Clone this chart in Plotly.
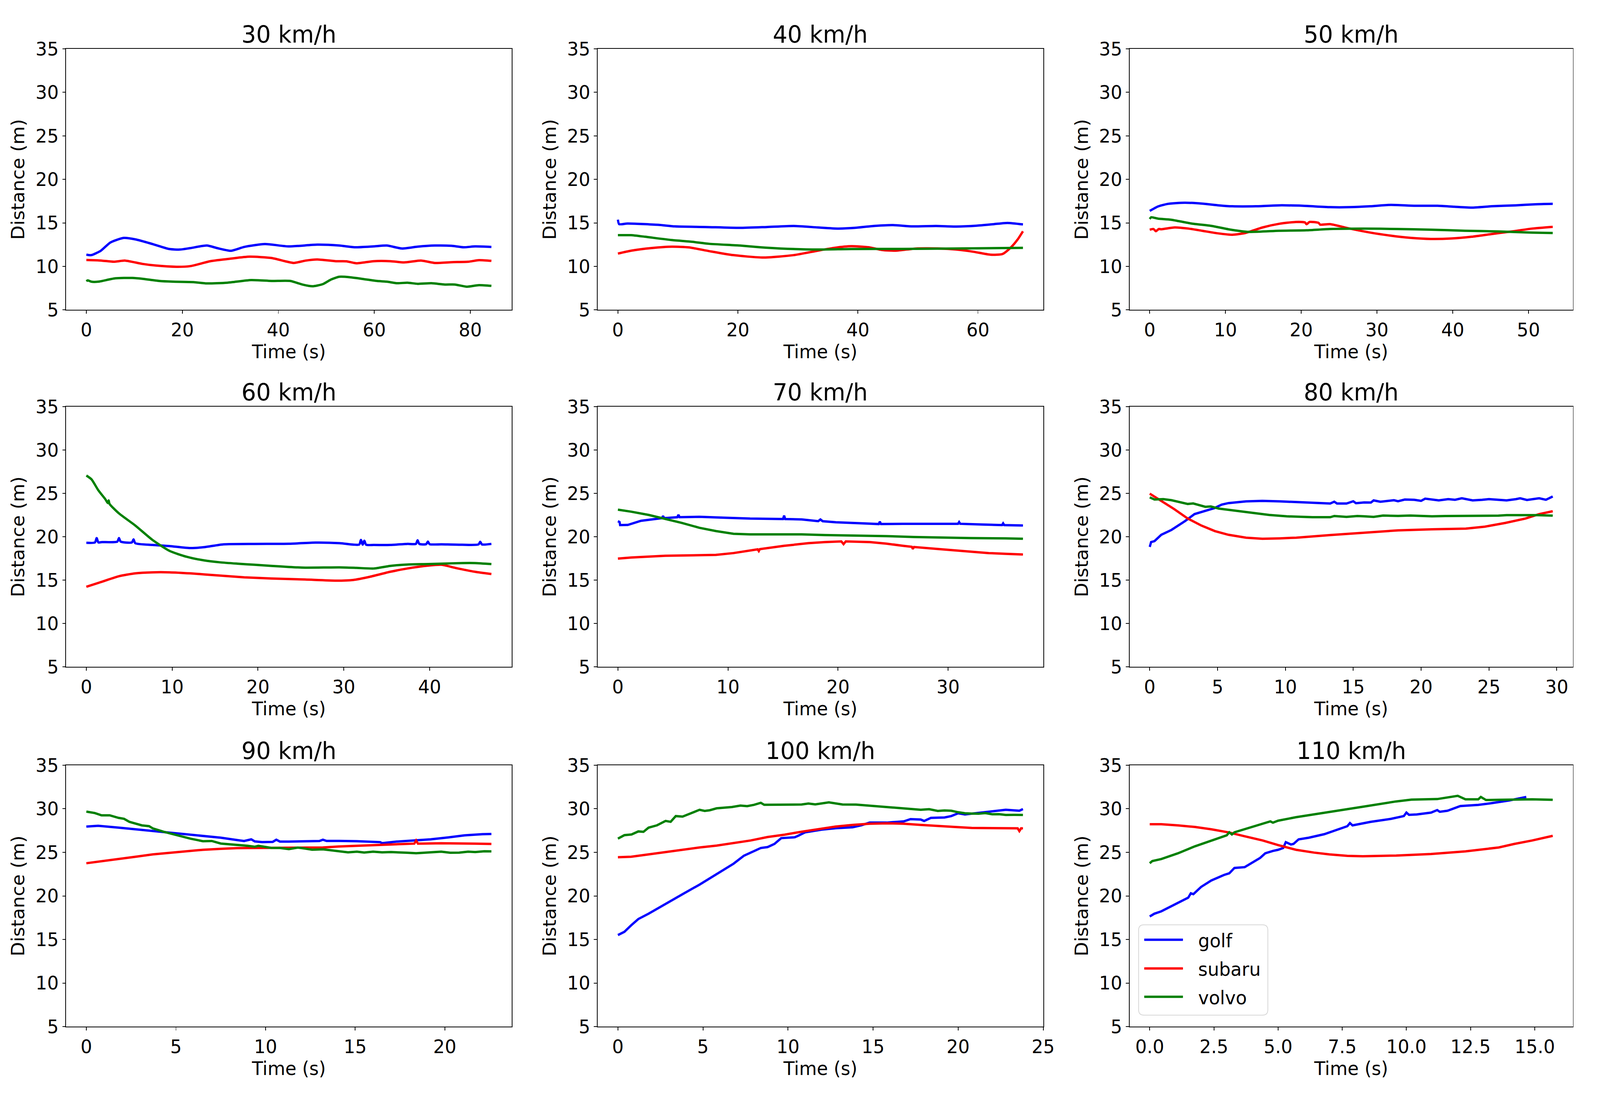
import plotly.graph_objects as go

# ---------------- data ----------------
SPEEDS = ["30 km/h", "40 km/h", "50 km/h", "60 km/h", "70 km/h", "80 km/h", "90 km/h", "100 km/h", "110 km/h"]
CARS = ["golf", "subaru", "volvo"]
CAR_COLORS = {"golf": "#0000ff", "subaru": "#ff0000", "volvo": "#008000"}
X_DTICK = [20, 20, 10, 10, 10, 5, 5, 5, 2.5]
Y_TICKS = [5, 10, 15, 20, 25, 30, 35]

T30_GOLF = [0, 1, 3, 5, 7.8, 10.3, 13.8, 17.3, 19.5, 21.6, 25.1, 27.3, 30.1, 32.9, 37.2, 42.1, 48.1, 52.7, 55.9, 59.8, 62.6, 65.8, 69, 72.6, 76.1, 78.6, 81, 84.4]
D30_GOLF = [11.35, 11.3, 11.8, 12.75, 13.28, 13.1, 12.57, 12.0, 11.94, 12.1, 12.4, 12.1, 11.8, 12.24, 12.57, 12.3, 12.5, 12.4, 12.2, 12.3, 12.4, 12.06, 12.27, 12.4, 12.37, 12.2, 12.3, 12.24]
T30_SUB = [0, 3.2, 5.7, 8.1, 11.7, 14.5, 18.8, 21.6, 23.7, 25.8, 30.1, 34, 38.6, 41.4, 43.2, 45.7, 48.1, 52, 54.2, 56.3, 59.8, 63.4, 66.2, 69.8, 72.6, 76.1, 79.6, 81.8, 84.4]
D30_SUB = [10.74, 10.67, 10.54, 10.67, 10.29, 10.1, 9.96, 10.03, 10.3, 10.6, 10.9, 11.12, 10.97, 10.6, 10.4, 10.67, 10.8, 10.6, 10.59, 10.36, 10.6, 10.6, 10.46, 10.67, 10.4, 10.49, 10.54, 10.72, 10.64]
T30_VOL = [0, 0.3, 1, 2.5, 6, 9.6, 11.7, 15.2, 18, 22.3, 25.1, 29.4, 34.3, 38.6, 42.5, 45, 47.1, 49.3, 51, 52.7, 54.9, 58.4, 60.6, 62.6, 64.8, 66.9, 69, 71.9, 74.7, 76.8, 79.3, 81.8, 84.4]
D30_VOL = [8.3, 8.4, 8.25, 8.25, 8.63, 8.68, 8.58, 8.33, 8.25, 8.2, 8.05, 8.13, 8.43, 8.33, 8.33, 7.92, 7.72, 7.97, 8.5, 8.81, 8.76, 8.5, 8.33, 8.25, 8.07, 8.13, 8.0, 8.07, 7.92, 7.92, 7.67, 7.85, 7.77]

T40_GOLF = [0, 0.2, 1.6, 6.7, 9.5, 14.6, 20.3, 24.8, 29.3, 33.3, 36.7, 39.5, 42.3, 45.7, 49.1, 53, 56.4, 59.8, 62.7, 64.9, 67.5]
D40_GOLF = [15.37, 14.86, 14.93, 14.78, 14.6, 14.53, 14.43, 14.53, 14.65, 14.48, 14.35, 14.43, 14.63, 14.75, 14.6, 14.65, 14.58, 14.68, 14.86, 15.0, 14.83]
T40_SUB = [0, 2.2, 5.6, 9, 11.8, 15.2, 19.2, 24.2, 29.3, 33.3, 36.1, 38.9, 41.8, 44, 46.3, 49.7, 53.6, 56.4, 59.3, 62.1, 64.1, 65.5, 66.6, 67.5]
D40_SUB = [11.48, 11.81, 12.11, 12.27, 12.19, 11.76, 11.3, 11.02, 11.3, 11.81, 12.14, 12.32, 12.2, 11.89, 11.81, 12.06, 12.06, 11.94, 11.68, 11.35, 11.43, 12.19, 13.08, 14.04]
T40_VOL = [0, 2.2, 4.5, 9, 12.4, 15.2, 20.3, 23.7, 27.1, 33.3, 38.9, 47.4, 55.9, 67.5]
D40_VOL = [13.59, 13.59, 13.41, 13.03, 12.83, 12.6, 12.4, 12.2, 12.06, 11.94, 12.0, 12.01, 12.06, 12.14]

T50_GOLF = [0, 1.1, 2.4, 4.6, 6.9, 9.1, 10.9, 14, 17.1, 20.2, 23.8, 26.4, 29.1, 31.8, 34.9, 38, 40.2, 42.5, 45.1, 48.3, 50.9, 53.2]
D50_GOLF = [16.38, 16.89, 17.19, 17.32, 17.22, 17.02, 16.91, 16.91, 17.02, 16.97, 16.81, 16.81, 16.91, 17.07, 16.97, 16.97, 16.86, 16.76, 16.91, 17.02, 17.14, 17.19]
T50_SUB = [0, 0.5, 0.8, 1.2, 1.5, 3.3, 5.1, 6.9, 9.1, 10.9, 12.6, 14.9, 17.1, 19.3, 20.5, 20.7, 21.1, 22.3, 22.5, 23.8, 26.4, 29.1, 31.8, 34.5, 37.1, 39.8, 42.5, 45.1, 47.8, 50.5, 53.2]
D50_SUB = [14.22, 14.3, 14.05, 14.3, 14.27, 14.48, 14.35, 14.1, 13.79, 13.64, 13.84, 14.48, 14.9, 15.11, 15.05, 14.85, 15.11, 15.0, 14.8, 14.86, 14.35, 13.89, 13.54, 13.28, 13.16, 13.21, 13.41, 13.72, 14.02, 14.35, 14.55]
T50_VOL = [0, 0.2, 1.1, 2.8, 5.5, 8.2, 10.4, 13.1, 17.1, 20.7, 23.8, 28.2, 32.7, 37.1, 41.6, 46, 50.5, 53.2]
D50_VOL = [15.45, 15.65, 15.49, 15.37, 14.93, 14.65, 14.27, 13.97, 14.1, 14.15, 14.3, 14.35, 14.3, 14.22, 14.1, 14.02, 13.89, 13.84]

T60_GOLF = [0, 1.0, 1.2, 1.4, 1.8, 3.6, 3.8, 4.0, 5.3, 5.5, 5.7, 7.7, 9.7, 12.1, 13.7, 16, 19.6, 23.6, 26.7, 29.5, 31.1, 31.8, 32.0, 32.2, 32.4, 32.6, 33.5, 35.4, 37.4, 38.4, 38.6, 38.8, 39.6, 39.8, 40.0, 41.4, 43.8, 45.7, 45.9, 46.1, 47.2]
D60_GOLF = [19.31, 19.35, 19.85, 19.35, 19.39, 19.44, 19.85, 19.44, 19.35, 19.7, 19.26, 19.06, 18.93, 18.7, 18.8, 19.13, 19.18, 19.2, 19.33, 19.26, 19.1, 19.1, 19.64, 19.1, 19.55, 19.08, 19.06, 19.06, 19.18, 19.18, 19.6, 19.18, 19.15, 19.45, 19.15, 19.13, 19.08, 19.12, 19.42, 19.12, 19.18]
T60_SUB = [0, 1.8, 3.8, 5.7, 7.7, 9.7, 12.1, 15.6, 18.4, 21.6, 25.5, 29.1, 31.1, 33.1, 35.4, 37.4, 39.8, 41.4, 43, 45.3, 47.2]
D60_SUB = [14.23, 14.81, 15.45, 15.78, 15.9, 15.9, 15.78, 15.52, 15.32, 15.19, 15.07, 14.94, 15.02, 15.4, 15.96, 16.34, 16.67, 16.77, 16.41, 15.96, 15.7]
T60_VOL = [0, 0.6, 1.4, 2.2, 2.5, 2.6, 2.7, 3.8, 5.7, 7.7, 9.7, 11.7, 13.7, 15.6, 17.6, 19.6, 21.6, 23.6, 25.5, 29.5, 31.5, 33.5, 35.4, 37.4, 39.8, 41.4, 43.8, 45.3, 47.2]
D60_VOL = [27.07, 26.63, 25.36, 24.35, 23.9, 24.2, 23.8, 22.7, 21.3, 19.64, 18.37, 17.69, 17.28, 17.05, 16.9, 16.77, 16.64, 16.52, 16.44, 16.47, 16.41, 16.34, 16.64, 16.8, 16.85, 16.9, 16.97, 16.97, 16.85]

T70_GOLF = [0, 0.15, 0.2, 0.9, 2.1, 3.7, 4.0, 4.1, 4.2, 5.4, 5.5, 5.6, 7.4, 9.6, 12, 15.0, 15.1, 15.2, 16.7, 18.2, 18.4, 18.6, 19.8, 22.2, 23.7, 23.8, 23.9, 25.9, 29, 30.9, 31.0, 31.1, 33.1, 34.9, 35.0, 35.1, 36.8]
D70_GOLF = [21.8, 21.7, 21.35, 21.37, 21.85, 22.1, 22.15, 22.4, 22.15, 22.26, 22.55, 22.26, 22.31, 22.21, 22.1, 22.05, 22.45, 22.05, 22.0, 21.8, 22.0, 21.8, 21.68, 21.55, 21.47, 21.75, 21.47, 21.5, 21.5, 21.5, 21.7, 21.5, 21.42, 21.35, 21.55, 21.35, 21.3]
T70_SUB = [0, 1.2, 4.3, 7.4, 8.9, 10.5, 12.3, 12.7, 12.8, 12.9, 15.1, 17.3, 18.8, 20.3, 20.5, 20.7, 22.9, 24.4, 25.9, 26.7, 26.8, 26.9, 29, 30.6, 32.1, 33.7, 35.2, 36.8]
D70_SUB = [17.48, 17.61, 17.81, 17.84, 17.91, 18.12, 18.45, 18.55, 18.35, 18.58, 18.96, 19.26, 19.39, 19.47, 19.15, 19.47, 19.39, 19.21, 18.96, 18.85, 18.6, 18.82, 18.6, 18.42, 18.24, 18.12, 18.04, 17.96]
T70_VOL = [0, 1.2, 2.8, 4.3, 5.8, 7.4, 8.9, 10.5, 12, 15.1, 16.7, 18.8, 21.3, 24.4, 26.9, 29, 32.1, 35.2, 36.8]
D70_VOL = [23.13, 22.9, 22.52, 22.06, 21.6, 21.04, 20.66, 20.35, 20.28, 20.28, 20.28, 20.2, 20.15, 20.08, 19.97, 19.9, 19.85, 19.82, 19.77]

T80_GOLF = [0, 0.1, 0.35, 0.85, 1.6, 2.6, 3.3, 4.1, 4.8, 5.3, 5.8, 7.1, 8.3, 9.6, 10.8, 12, 13.3, 13.6, 13.8, 14.5, 15.0, 15.2, 15.8, 16.3, 16.5, 17, 17.5, 18, 18.3, 18.8, 19.5, 20.0, 20.3, 20.8, 21.3, 22, 22.5, 23.0, 23.3, 23.8, 24.5, 25.0, 25.7, 26.3, 27, 27.3, 27.8, 28.2, 28.7, 29.2, 29.7]
D80_GOLF = [18.83, 19.39, 19.5, 20.23, 20.79, 21.81, 22.62, 23.02, 23.33, 23.71, 23.89, 24.09, 24.14, 24.09, 24.02, 23.91, 23.84, 24.05, 23.84, 23.84, 24.1, 23.88, 23.96, 23.95, 24.2, 24.04, 24.1, 24.22, 24.1, 24.3, 24.27, 24.15, 24.4, 24.27, 24.2, 24.35, 24.27, 24.45, 24.35, 24.2, 24.27, 24.35, 24.27, 24.2, 24.35, 24.45, 24.25, 24.35, 24.45, 24.27, 24.65]
T80_SUB = [0, 0.85, 1.8, 2.8, 3.8, 4.8, 5.8, 7.1, 8.3, 9.6, 10.8, 13.3, 15.8, 18.3, 20.8, 23.3, 24.7, 26.2, 27.7, 28.7, 29.7]
D80_SUB = [24.98, 24.17, 23.2, 22.11, 21.3, 20.66, 20.23, 19.9, 19.77, 19.82, 19.9, 20.2, 20.48, 20.74, 20.86, 20.94, 21.17, 21.6, 22.11, 22.62, 22.95]
T80_VOL = [0, 0.35, 1.0, 1.6, 2.8, 3.2, 4.1, 4.5, 5.1, 6.3, 7.6, 8.8, 10.1, 11, 12, 13.3, 13.6, 14.5, 15.3, 15.8, 16.5, 17.2, 18.3, 19.2, 20.8, 21.8, 23.3, 24.5, 25.7, 26.3, 27.7, 28.5, 29.7]
D80_VOL = [24.55, 24.3, 24.35, 24.22, 23.79, 23.85, 23.46, 23.5, 23.25, 23.02, 22.77, 22.52, 22.36, 22.3, 22.26, 22.26, 22.4, 22.3, 22.4, 22.36, 22.3, 22.45, 22.41, 22.45, 22.36, 22.4, 22.41, 22.45, 22.44, 22.5, 22.52, 22.5, 22.44]

T90_GOLF = [0, 0.66, 1.8, 2.75, 3.7, 4.6, 5.6, 6.5, 7.5, 8.4, 8.8, 9.2, 9.4, 9.8, 10.4, 10.6, 10.8, 11.3, 12.2, 13.0, 13.2, 13.4, 14.1, 15.1, 16.4, 16.5, 17.3, 18.3, 19.2, 20.2, 21.1, 22.1, 22.6]
D90_GOLF = [27.96, 28.04, 27.83, 27.64, 27.43, 27.24, 27.05, 26.89, 26.68, 26.41, 26.3, 26.49, 26.25, 26.17, 26.2, 26.45, 26.23, 26.23, 26.28, 26.3, 26.45, 26.31, 26.31, 26.28, 26.17, 26.05, 26.23, 26.36, 26.49, 26.71, 26.95, 27.08, 27.11]
T90_SUB = [0, 0.85, 1.8, 2.75, 3.7, 4.6, 5.6, 6.5, 7.5, 8.4, 10.3, 12.2, 13.2, 14.1, 15.1, 16, 17, 17.9, 18.3, 18.4, 18.5, 18.9, 19.8, 21.7, 22.6]
D90_SUB = [23.75, 23.96, 24.23, 24.49, 24.76, 24.95, 25.16, 25.29, 25.4, 25.48, 25.51, 25.51, 25.56, 25.67, 25.75, 25.83, 25.91, 25.96, 26.0, 26.36, 26.0, 26.01, 26.04, 25.99, 25.96]
T90_VOL = [0, 0.47, 0.85, 1.3, 1.8, 2.1, 2.4, 2.8, 3.1, 3.5, 3.7, 4.3, 5.0, 5.8, 6.5, 7.0, 7.5, 8.4, 9.0, 9.4, 9.6, 10.3, 10.8, 11.3, 11.8, 12.2, 12.6, 13.2, 14.1, 14.6, 15.1, 15.5, 16.0, 16.5, 17.0, 17.5, 17.9, 18.4, 18.9, 19.4, 19.8, 20.3, 20.8, 21.3, 21.7, 22.2, 22.6]
D90_VOL = [29.67, 29.51, 29.24, 29.25, 28.95, 28.85, 28.5, 28.3, 28.09, 28.0, 27.75, 27.37, 26.97, 26.57, 26.28, 26.3, 26.01, 25.88, 25.75, 25.64, 25.75, 25.51, 25.5, 25.37, 25.55, 25.43, 25.3, 25.35, 25.11, 25.0, 25.08, 24.98, 25.08, 25.0, 25.03, 24.95, 24.95, 24.9, 24.97, 25.05, 25.08, 24.95, 24.97, 25.08, 25.03, 25.12, 25.11]

T100_GOLF = [0, 0.38, 0.78, 1.2, 1.8, 2.8, 3.8, 4.8, 5.8, 6.8, 7.4, 8.0, 8.4, 8.8, 9.2, 9.6, 10.4, 10.6, 11.0, 12.0, 12.8, 13.8, 14.3, 14.8, 15.8, 16.8, 17.2, 17.8, 18.0, 18.4, 18.8, 19.2, 19.6, 20.0, 20.4, 20.8, 21.8, 22.8, 23.6, 23.81]
D100_GOLF = [15.51, 15.88, 16.63, 17.35, 17.96, 19.1, 20.2, 21.3, 22.5, 23.7, 24.6, 25.1, 25.5, 25.6, 25.96, 26.63, 26.73, 26.9, 27.29, 27.61, 27.77, 27.88, 28.1, 28.41, 28.41, 28.55, 28.81, 28.76, 28.6, 28.95, 28.95, 29.0, 29.16, 29.48, 29.35, 29.43, 29.67, 29.88, 29.77, 29.96]
T100_SUB = [0, 0.78, 1.8, 2.8, 3.8, 4.8, 5.8, 6.8, 7.8, 8.8, 9.8, 10.8, 11.8, 12.8, 13.8, 14.8, 15.8, 16.8, 17.8, 18.8, 19.8, 20.8, 21.8, 22.8, 23.5, 23.6, 23.7, 23.81]
D100_SUB = [24.44, 24.49, 24.76, 25.03, 25.29, 25.56, 25.77, 26.04, 26.36, 26.76, 27.03, 27.37, 27.69, 27.96, 28.15, 28.28, 28.33, 28.28, 28.15, 28.01, 27.91, 27.8, 27.77, 27.75, 27.75, 27.43, 27.75, 27.75]
T100_VOL = [0, 0.38, 0.8, 1.2, 1.5, 1.8, 2.3, 2.8, 3.1, 3.4, 3.8, 4.2, 4.8, 5.1, 5.4, 5.8, 6.2, 6.7, 7.2, 7.6, 8.0, 8.4, 8.6, 9.2, 10.0, 10.8, 11.2, 11.6, 12.4, 13.2, 14, 14.8, 15.8, 16.8, 17.8, 18.3, 18.8, 19.2, 19.6, 20.0, 20.4, 20.8, 21.2, 21.6, 22.0, 22.4, 22.8, 23.3, 23.81]
D100_VOL = [26.57, 26.97, 27.05, 27.4, 27.35, 27.83, 28.1, 28.6, 28.5, 29.16, 29.1, 29.43, 29.88, 29.75, 29.83, 30.05, 30.09, 30.2, 30.36, 30.3, 30.45, 30.68, 30.45, 30.47, 30.48, 30.49, 30.6, 30.5, 30.73, 30.49, 30.48, 30.36, 30.23, 30.09, 29.88, 29.95, 29.75, 29.8, 29.77, 29.6, 29.48, 29.45, 29.43, 29.5, 29.37, 29.38, 29.29, 29.3, 29.29]

T110_GOLF = [0, 0.18, 0.45, 0.84, 1.23, 1.5, 1.6, 1.7, 2.0, 2.4, 2.9, 3.1, 3.3, 3.7, 4.3, 4.5, 4.8, 5.0, 5.2, 5.3, 5.5, 5.6, 5.8, 6.2, 6.8, 7.3, 7.7, 7.8, 7.9, 8.6, 9.4, 9.9, 10.0, 10.1, 10.4, 10.96, 11.2, 11.3, 11.6, 12.1, 12.8, 13.3, 14, 14.67]
D110_GOLF = [17.64, 17.96, 18.23, 18.81, 19.43, 19.8, 20.3, 20.2, 21.03, 21.77, 22.41, 22.6, 23.21, 23.3, 24.36, 24.89, 25.16, 25.29, 25.5, 26.17, 25.9, 25.96, 26.49, 26.68, 27.08, 27.56, 28.0, 28.36, 28.09, 28.49, 28.84, 29.16, 29.56, 29.3, 29.35, 29.56, 29.85, 29.65, 29.77, 30.31, 30.44, 30.63, 30.95, 31.35]
T110_SUB = [0, 0.45, 1.1, 1.76, 2.4, 3.07, 3.7, 4.4, 5.0, 5.7, 6.4, 7.0, 7.7, 8.3, 9.6, 10.3, 10.96, 12.3, 12.9, 13.6, 14.2, 14.9, 15.7]
D110_SUB = [28.23, 28.23, 28.09, 27.91, 27.64, 27.29, 26.84, 26.36, 25.83, 25.29, 24.97, 24.76, 24.6, 24.55, 24.63, 24.71, 24.81, 25.11, 25.29, 25.56, 25.96, 26.36, 26.89]
T110_VOL = [0, 0.1, 0.45, 1.1, 1.76, 2.4, 3.0, 3.1, 3.2, 3.3, 3.7, 4.4, 4.7, 4.8, 5.0, 5.7, 7.0, 8.3, 9.6, 10.2, 11.2, 12.0, 12.3, 12.8, 12.9, 13.1, 13.6, 14.9, 15.7]
D110_VOL = [23.75, 24.0, 24.23, 24.89, 25.69, 26.36, 26.95, 27.3, 27.05, 27.3, 27.64, 28.23, 28.55, 28.4, 28.63, 29.03, 29.61, 30.23, 30.84, 31.05, 31.11, 31.48, 31.08, 31.08, 31.35, 31.0, 31.03, 31.08, 31.03]

PANELS = [
    [(T30_GOLF, D30_GOLF), (T30_SUB, D30_SUB), (T30_VOL, D30_VOL)],
    [(T40_GOLF, D40_GOLF), (T40_SUB, D40_SUB), (T40_VOL, D40_VOL)],
    [(T50_GOLF, D50_GOLF), (T50_SUB, D50_SUB), (T50_VOL, D50_VOL)],
    [(T60_GOLF, D60_GOLF), (T60_SUB, D60_SUB), (T60_VOL, D60_VOL)],
    [(T70_GOLF, D70_GOLF), (T70_SUB, D70_SUB), (T70_VOL, D70_VOL)],
    [(T80_GOLF, D80_GOLF), (T80_SUB, D80_SUB), (T80_VOL, D80_VOL)],
    [(T90_GOLF, D90_GOLF), (T90_SUB, D90_SUB), (T90_VOL, D90_VOL)],
    [(T100_GOLF, D100_GOLF), (T100_SUB, D100_SUB), (T100_VOL, D100_VOL)],
    [(T110_GOLF, D110_GOLF), (T110_SUB, D110_SUB), (T110_VOL, D110_VOL)],
]

# ---------------- layout ----------------
W, H = 4228, 2816
COL_PX = [(176, 1362), (1591, 2777), (3007, 4187)]
ROW_PX = [(99, 781), (1034, 1713), (1970, 2653)]
FONT = "DejaVu Sans"
TICK_SIZE = 48
TITLE_SIZE = 61
LINE_W = 6

fig = go.Figure()
annotations = []
shapes = []
layout_axes = {}

for i, series in enumerate(PANELS):
    r, c = divmod(i, 3)
    n = i + 1
    xa = "x" if n == 1 else f"x{n}"
    ya = "y" if n == 1 else f"y{n}"
    xd = [COL_PX[c][0] / W, COL_PX[c][1] / W]
    yd = [1 - ROW_PX[r][1] / H, 1 - ROW_PX[r][0] / H]

    tmax = max(max(t) for t, _ in series)
    xr = [-0.05 * tmax, tmax * 1.05]

    for car, (t, d) in zip(CARS, series):
        smooth = i < 4
        fig.add_trace(go.Scatter(
            x=t, y=d, mode="lines", name=car,
            line=dict(color=CAR_COLORS[car], width=LINE_W,
                      shape="spline" if smooth else "linear",
                      smoothing=0.6 if smooth else None),
            xaxis=xa, yaxis=ya, showlegend=False,
        ))

    common = dict(
        showline=True, linecolor="black", linewidth=2, mirror=True,
        ticks="outside", ticklen=8, tickwidth=2, tickcolor="black",
        showgrid=False, zeroline=False,
        tickfont=dict(family=FONT, size=TICK_SIZE, color="black"),
    )
    layout_axes["xaxis" if n == 1 else f"xaxis{n}"] = dict(
        common, domain=xd, anchor=ya, range=xr,
        tick0=0, dtick=X_DTICK[i], tickformat=".1f" if i == 8 else None,
        title=dict(text="Time (s)", font=dict(family=FONT, size=TICK_SIZE, color="black"), standoff=4),
    )
    layout_axes["yaxis" if n == 1 else f"yaxis{n}"] = dict(
        common, domain=yd, anchor=xa, range=[5, 35],
        tickmode="array", tickvals=Y_TICKS,
        title=dict(text="Distance (m)", font=dict(family=FONT, size=TICK_SIZE, color="black"), standoff=14),
    )
    annotations.append(dict(
        text=SPEEDS[i], x=(xd[0] + xd[1]) / 2, y=yd[1], xref="paper", yref="paper",
        xanchor="center", yanchor="bottom", showarrow=False, yshift=0,
        font=dict(family=FONT, size=TITLE_SIZE, color="black"),
    ))

# ---- legend (matplotlib-style box inside the 110 km/h panel) ----
LEG_BOX = (3031, 2387, 3375, 2623)        # left, top, right, bottom in px
LEG_LINE_X = (3046, 3149)
LEG_TEXT_X = 3187
LEG_ROWS_Y = [2426, 2501, 2575]

def px(xp):
    return xp / W

def py(yp):
    return 1 - yp / H

x0, y0, x1, y1 = px(LEG_BOX[0]), py(LEG_BOX[1]), px(LEG_BOX[2]), py(LEG_BOX[3])
rx, ry = 14 / W, 14 / H
shapes.append(dict(
    type="path", xref="paper", yref="paper", layer="above",
    path=(f"M {x0 + rx},{y0} L {x1 - rx},{y0} Q {x1},{y0} {x1},{y0 - ry} "
          f"L {x1},{y1 + ry} Q {x1},{y1} {x1 - rx},{y1} L {x0 + rx},{y1} "
          f"Q {x0},{y1} {x0},{y1 + ry} L {x0},{y0 - ry} Q {x0},{y0} {x0 + rx},{y0} Z"),
    fillcolor="rgba(255,255,255,0.85)", line=dict(color="#d6d6d6", width=2),
))
for car, yy in zip(CARS, LEG_ROWS_Y):
    shapes.append(dict(
        type="line", xref="paper", yref="paper", layer="above",
        x0=px(LEG_LINE_X[0]), x1=px(LEG_LINE_X[1]), y0=py(yy), y1=py(yy),
        line=dict(color=CAR_COLORS[car], width=LINE_W),
    ))
    annotations.append(dict(
        text=car, x=px(LEG_TEXT_X), y=py(yy), xref="paper", yref="paper",
        xanchor="left", yanchor="middle", showarrow=False, yshift=-2,
        font=dict(family=FONT, size=TICK_SIZE, color="black"),
    ))

fig.update_layout(
    width=W, height=H,
    margin=dict(l=0, r=0, t=0, b=0),
    paper_bgcolor="white", plot_bgcolor="white",
    font=dict(family=FONT, size=TICK_SIZE, color="black"),
    annotations=annotations, shapes=shapes,
    showlegend=False,
    **layout_axes,
)

# Fit the fixed 4228x2816 figure exactly into whatever viewport the page gets.
POST = """
var gd = document.getElementById('{plot_id}');
document.documentElement.style.margin = '0';
document.body.style.margin = '0';
document.body.style.overflow = 'hidden';
var sx = window.innerWidth / %d, sy = window.innerHeight / %d;
gd.style.transformOrigin = '0 0';
gd.style.transform = 'scale(' + sx + ',' + sy + ')';
""" % (W, H)

fig.write_html("out.html", post_script=POST, config={"displayModeBar": False})
